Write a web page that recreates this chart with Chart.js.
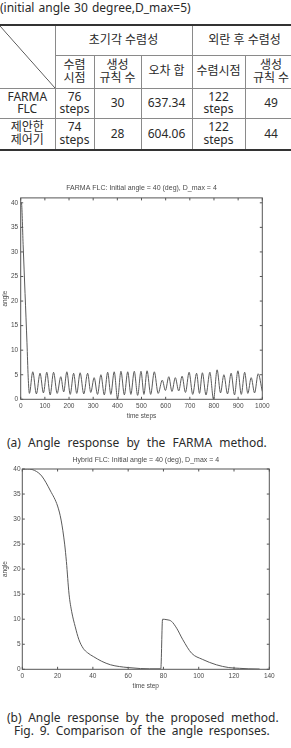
<!DOCTYPE html>
<html>
<head>
<meta charset="utf-8">
<script src="https://cdn.jsdelivr.net/npm/chart.js@4/dist/chart.umd.min.js"></script>
<style>
  html, body { margin: 0; padding: 0; background: #fff; }
  body { width: 291px; height: 748px; overflow: hidden; position: relative;
         font-family: "Noto Sans", "Noto Sans CJK KR", sans-serif; color: #2a2a2a; }
  .txt { position: absolute; left: 0; font-size: 12px; white-space: nowrap; word-spacing: 1px; }
  #tbl { position: absolute; left: 0; top: 24px; border-collapse: collapse; table-layout: fixed;
         width: 297px; font-size: 12px; line-height: 12.5px; }
  #tbl td { border: 1px solid #8a8a8a; padding: 0; text-align: center; vertical-align: middle; white-space: nowrap; }
  #tbl tr:first-child td { border-top: 2px solid #333; }
  #tbl tr:last-child td { border-bottom: 2px solid #333; }
  #tbl td.first { border-left: none; }
  #tbl td.diag { background: linear-gradient(to top right, transparent calc(50% - 0.7px), #555 50%, transparent calc(50% + 0.7px)); }
  canvas { position: absolute; left: 0; }
</style>
</head>
<body>
<div class="txt" style="top:0px; line-height:15px;">(initial angle 30 degree,D_max=5)</div>

<table id="tbl">
  <colgroup>
    <col style="width:55px"><col style="width:39px"><col style="width:47px">
    <col style="width:51px"><col style="width:53px"><col style="width:52px">
  </colgroup>
  <tr style="height:30px"><td rowspan="2" class="first diag"></td><td colspan="3">초기각 수렴성</td><td colspan="2">외란 후 수렴성</td></tr>
  <tr style="height:33px"><td>수렴<br>시점</td><td>생성<br>규칙 수</td><td>오차 합</td><td>수렴시점</td><td>생성<br>규칙 수</td></tr>
  <tr style="height:30px"><td class="first">FARMA<br>FLC</td><td>76<br>steps</td><td>30</td><td>637.34</td><td>122<br>steps</td><td>49</td></tr>
  <tr style="height:32px"><td class="first">제안한<br>제어기</td><td>74<br>steps</td><td>28</td><td>604.06</td><td>122<br>steps</td><td>44</td></tr>
</table>

<canvas id="farmaChart" width="291" height="245" style="top:180px"></canvas>
<div class="txt" style="top:435px; left:7px; line-height:16px; word-spacing:4px;">(a) Angle response by the FARMA method.</div>

<canvas id="hybridChart" width="291" height="245" style="top:450px"></canvas>
<div class="txt" style="top:711px; left:7px; line-height:13px; word-spacing:3.5px;">(b) Angle response by the proposed method.</div>
<div class="txt" style="top:724px; left:14px; line-height:13px; word-spacing:2.7px;">Fig. 9. Comparison of the angle responses.</div>

<script>
// FARMA FLC: angle vs time steps (peaks and troughs)
const farmaSteps = [0, 3, 10, 18, 26, 31, 36,
  50, 65, 80, 94, 108, 122, 136, 151, 166, 178, 191, 205, 219, 232, 246, 261, 277, 290,
  304, 318, 332, 346, 360, 373, 387, 401, 415, 429, 443, 456, 470, 484, 498, 510, 523, 538,
  553, 569, 586, 599, 613, 626, 640, 654, 668, 682, 697, 712, 728, 740, 752, 767, 783, 798,
  813, 827, 841, 856, 871, 885, 899, 913, 927, 940, 954, 968, 983, 1000];
const farmaAngle = [40, 40, 31.5, 21.5, 11.5, 4.5, 1.2,
  5.6, 1.1, 5.3, 1.3, 5.5, 0.9, 5.5, 1.2, 4.6, 1.5, 5.6, 1.0, 5.3, 1.2, 5.4, 1.1, 5.3, 1.4,
  4.4, 1.0, 5.0, 0.9, 5.5, 1.0, 5.6, 0.1, 5.7, 0.9, 5.6, 1.0, 5.7, 0.8, 5.7, 1.0, 5.8, 1.0,
  5.6, 1.2, 3.9, 1.8, 4.6, 1.6, 4.4, 1.7, 4.7, 1.4, 5.5, 1.0, 5.3, 1.2, 5.4, 0.9, 5.5, 0.0,
  6.0, 1.3, 5.0, 1.1, 5.3, 0.9, 5.8, 1.0, 5.5, 1.2, 4.4, 1.3, 5.2, 1.6];

// Hybrid FLC: angle vs time step
const hybridSteps = [0, 3, 7, 11, 16, 20, 22, 24, 25, 26.5, 28, 30, 32, 34.5, 37, 40.5, 45, 50,
  55, 60, 67, 72, 78.5, 79.5, 82, 84.5, 87.5, 91, 96, 102, 110, 117, 123, 128, 134.5];
const hybridAngle = [40, 40, 39.7, 38.6, 35.6, 32.6, 29.8, 25, 21.5, 15, 11.5, 8.5, 6, 4.2, 3.3, 2.5, 1.6, 0.9,
  0.55, 0.35, 0.15, 0.1, 0.1, 10, 9.9, 9.6, 8.2, 5.9, 3.2, 2.0, 0.9, 0.35, 0.2, 0.1, 0.05];

const angleTicks = [0, 5, 10, 15, 20, 25, 30, 35, 40];
const farmaXTicks = [0, 100, 200, 300, 400, 500, 600, 700, 800, 900, 1000];
const hybridXTicks = [0, 20, 40, 60, 80, 100, 120, 140];

const axisFont = { family: "'Liberation Sans', Arial, sans-serif", size: 6.5 };
const titleFont = { family: "'Liberation Sans', Arial, sans-serif", size: 7, weight: "normal" };
const inkColor = "#4a4a4a";

// matlab style frame with inward ticks on all four sides
const boxPlugin = {
  id: "matlabBox",
  afterDatasetsDraw(chart) {
    const { ctx, chartArea: a, scales: { x, y } } = chart;
    ctx.save();
    ctx.strokeStyle = "#555";
    ctx.lineWidth = 1;
    ctx.strokeRect(a.left, a.top, a.width, a.height);
    ctx.beginPath();
    x.ticks.forEach(t => {
      const px = x.getPixelForValue(t.value);
      ctx.moveTo(px, a.bottom); ctx.lineTo(px, a.bottom - 2.5);
      ctx.moveTo(px, a.top); ctx.lineTo(px, a.top + 2.5);
    });
    y.ticks.forEach(t => {
      const py = y.getPixelForValue(t.value);
      ctx.moveTo(a.left, py); ctx.lineTo(a.left + 2.5, py);
      ctx.moveTo(a.right, py); ctx.lineTo(a.right - 2.5, py);
    });
    ctx.stroke();
    ctx.restore();
  }
};

const makeChart = (id, steps, angle, cfg) => new Chart(document.getElementById(id), {
  type: "line",
  data: {
    datasets: [{
      data: steps.map((s, i) => ({ x: s, y: angle[i] })),
      borderColor: "#5a5a5a", borderWidth: 1, pointRadius: 0,
      cubicInterpolationMode: "monotone", fill: false
    }]
  },
  options: {
    responsive: false, animation: false, devicePixelRatio: 1,
    layout: { padding: { left: 0, right: cfg.padRight, top: 0, bottom: 0 } },
    plugins: {
      legend: { display: false }, tooltip: { enabled: false },
      title: { display: true, text: cfg.title, fullSize: false, color: inkColor,
               font: titleFont, padding: cfg.titlePad }
    },
    scales: {
      x: {
        type: "linear", min: 0, max: cfg.xMax,
        grid: { display: false, drawTicks: false }, border: { display: false },
        afterBuildTicks: s => { s.ticks = cfg.xTicks.map(v => ({ value: v })); },
        afterFit: s => { s.height = 25.7; },
        ticks: { autoSkip: false, maxRotation: 0, padding: cfg.xTickPad, color: inkColor, font: axisFont,
                 callback: v => String(v) },
        title: { display: true, text: cfg.xTitle, color: inkColor, font: axisFont, padding: { top: 0, bottom: 4.4 } }
      },
      y: {
        min: 0, max: cfg.yMax,
        grid: { display: false, drawTicks: false }, border: { display: false },
        afterBuildTicks: s => { s.ticks = angleTicks.map(v => ({ value: v })); },
        afterFit: s => { s.width = cfg.yWidth; },
        ticks: { autoSkip: false, padding: cfg.yTickPad, color: inkColor, font: axisFont,
                 callback: v => String(v) },
        title: { display: true, text: "angle", color: inkColor, font: axisFont, padding: { top: 1, bottom: 0 } }
      }
    }
  },
  plugins: [boxPlugin]
});

makeChart("farmaChart", farmaSteps, farmaAngle, {
  title: "FARMA FLC: Initial angle = 40 (deg), D_max = 4",
  titlePad: { top: 3.5, bottom: 6 },
  xMax: 1000, yMax: 41, xTicks: farmaXTicks, xTitle: "time steps",
  padRight: 28.7, yWidth: 20.7, xTickPad: 3.5, yTickPad: 2.5
});

makeChart("hybridChart", hybridSteps, hybridAngle, {
  title: "Hybrid FLC: Initial angle = 40 (deg), D_max = 4",
  titlePad: { top: 5.8, bottom: 4.8 },
  xMax: 140, yMax: 40, xTicks: hybridXTicks, xTitle: "time step",
  padRight: 21.7, yWidth: 22.3, xTickPad: 2.8, yTickPad: 1.7
});
</script>
</body>
</html>
